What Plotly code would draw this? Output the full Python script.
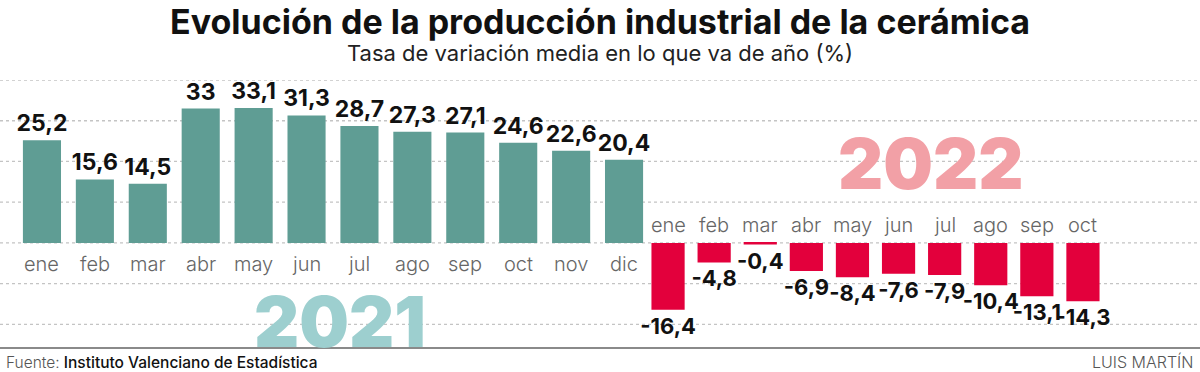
import plotly.graph_objects as go

months_2021 = ["ene", "feb", "mar", "abr", "may", "jun", "jul", "ago", "sep", "oct", "nov", "dic"]
values_2021 = [25.2, 15.6, 14.5, 33.0, 33.1, 31.3, 28.7, 27.3, 27.1, 24.6, 22.6, 20.4]
months_2022 = ["ene", "feb", "mar", "abr", "may", "jun", "jul", "ago", "sep", "oct"]
values_2022 = [-16.4, -4.8, -0.4, -6.9, -8.4, -7.6, -7.9, -10.4, -13.1, -14.3]
grid_values = [-20, -10, 0, 10, 20, 30, 40]

TEAL = "#5f9d94"
RED = "#e3003c"
FONT = "Inter"


def fmt(v):
    s = f"{v:.0f}" if v == int(v) else f"{v:.1f}"
    return s.replace(".", ",")


fig = go.Figure()
fig.add_trace(go.Bar(
    x=months_2021, y=values_2021, xaxis="x", yaxis="y",
    marker=dict(color=TEAL, line=dict(width=0)),
    text=[fmt(v) for v in values_2021], textposition="outside", constraintext="none",
    textfont=dict(family=FONT, size=23, color="#111", weight=700),
    cliponaxis=False, hoverinfo="skip",
))
fig.add_trace(go.Bar(
    x=months_2022, y=values_2022, xaxis="x2", yaxis="y",
    marker=dict(color=RED, line=dict(width=0)),
    text=[fmt(v) for v in values_2022], textposition="outside", constraintext="none",
    textfont=dict(family=FONT, size=22, color="#111", weight=700),
    cliponaxis=False, hoverinfo="skip",
))

annotations = []
for m in months_2021:
    annotations.append(dict(x=m, y=0, xref="x", yref="y", text=m, showarrow=False,
                            yshift=-21, font=dict(family=FONT, size=20, color="#666", weight=300)))
for m in months_2022:
    annotations.append(dict(x=m, y=0, xref="x2", yref="y", text=m, showarrow=False,
                            yshift=18, font=dict(family=FONT, size=20, color="#666", weight=300)))

annotations += [
    dict(text="Evolución de la producción industrial de la cerámica", xref="paper", yref="paper",
         x=0.5, xanchor="center", y=1, yshift=59, yanchor="middle", showarrow=False,
         font=dict(family=FONT, size=34, color="#111", weight=700)),
    dict(text="Tasa de variación media en lo que va de año (%)", xref="paper", yref="paper",
         x=0.5, xanchor="center", y=1, yshift=27, yanchor="middle", showarrow=False,
         font=dict(family=FONT, size=22, color="#222", weight=400)),
    dict(text="2021", xref="paper", yref="paper", x=340 / 1200, xanchor="center", y=0, yshift=27,
         yanchor="middle", showarrow=False, font=dict(family=FONT, size=70, color="#9dcfcf", weight=900)),
    dict(text="2022", xref="paper", yref="paper", x=931 / 1200, xanchor="center", y=0, yshift=185,
         yanchor="middle", showarrow=False, font=dict(family=FONT, size=70, color="#f2a0a6", weight=900)),
    dict(text="<span style='font-weight:300;color:#555'>Fuente:</span> Instituto Valenciano de Estadística",
         xref="paper", yref="paper", x=0, xshift=4, xanchor="left", y=0, yshift=-14, yanchor="middle",
         showarrow=False, font=dict(family=FONT, size=15.5, color="#111", weight=500)),
    dict(text="LUIS MARTÍN", xref="paper", yref="paper", x=1, xshift=-5, xanchor="right", y=0, yshift=-14,
         yanchor="middle", showarrow=False, font=dict(family=FONT, size=16, color="#555", weight=300)),
]

shapes = [dict(type="line", xref="paper", yref="y", x0=0, x1=1, y0=g, y1=g, layer="below",
               line=dict(color="#c4c4c4", width=1.3, dash="dot")) for g in grid_values]
shapes.append(dict(type="line", xref="paper", yref="paper", x0=0, x1=1, y0=0, y1=0,
                   line=dict(color="#8a8a8a", width=2)))

fig.update_layout(
    width=1200, height=372,
    margin=dict(l=0, r=0, t=80, b=24),
    paper_bgcolor="white", plot_bgcolor="rgba(0,0,0,0)",
    showlegend=False, bargap=0.28,
    xaxis=dict(domain=[15.5 / 1200, 650.5 / 1200], showticklabels=False, showgrid=False,
               zeroline=False, showline=False, anchor="y", fixedrange=True),
    xaxis2=dict(domain=[645 / 1200, 1106 / 1200], showticklabels=False, showgrid=False,
                zeroline=False, showline=False, anchor="y", fixedrange=True),
    yaxis=dict(range=[-25.8, 40], showticklabels=False, showgrid=False, zeroline=False,
               showline=False, fixedrange=True),
    annotations=annotations, shapes=shapes,
)

fig.write_html("out.html", config={"displayModeBar": False},
               post_script="document.body.style.margin='0';document.body.style.overflow='hidden';")
